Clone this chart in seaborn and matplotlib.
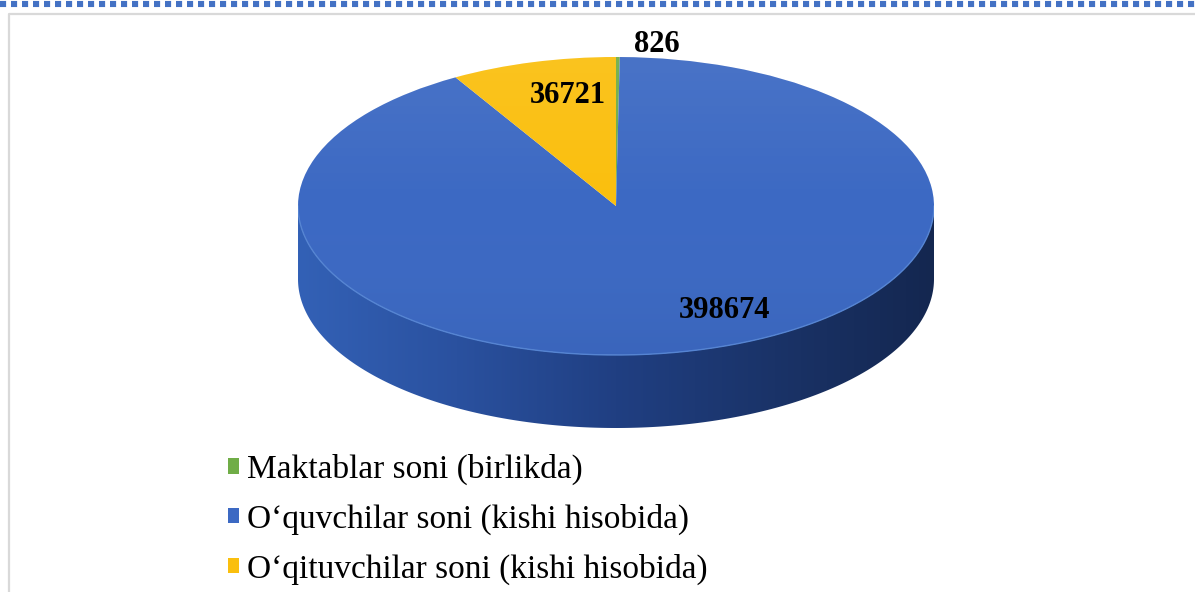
# -*- coding: utf-8 -*-

### 3D style pie chart: maktablar, o'quvchilar, o'qituvchilar ###

import numpy as np
import matplotlib
matplotlib.use("Agg")
import matplotlib.pyplot as plt
from matplotlib.patches import Polygon, Ellipse
from matplotlib.colors import LinearSegmentedColormap
import seaborn as sns

sns.set_theme(style="white")
plt.rcParams['font.family'] = ['Liberation Serif', 'DejaVu Serif']

## Data ##
labels = ["Maktablar soni (birlikda)",
          "O‘quvchilar soni (kishi hisobida)",
          "O‘qituvchilar soni (kishi hisobida)"]
values = [826, 398674, 36721]
colors = ["#70AD47", "#3C69C3", "#FABF0E"]

W, H = 1195, 592
fig = plt.figure(figsize=(W / 100, H / 100), dpi=100)

## frame: dotted blue top line + grey border ##
bg = fig.add_axes([0, 0, 1, 1])
bg.set_xlim(0, W)
bg.set_ylim(H, 0)
bg.axis('off')
bg.plot([0, W], [3.5, 3.5], color="#4472C4", lw=4.4, dashes=(1, 0.8),
        solid_capstyle='butt', dash_capstyle='butt')
bg.plot([9, 9, W], [H, 13.5, 13.5], color="#d9d9d9", lw=1.6)

## pie geometry (pixels) ##
cx, cy, a, b, depth = 616, 206, 318, 149, 73
d = depth / b
ax = fig.add_axes([(cx - a) / W, (H - (cy + b + depth)) / H,
                   2 * a / W, (2 * b + depth) / H])
ax.set_facecolor('none')

# side of the cylinder
t = np.linspace(np.pi, 2 * np.pi, 300)
xs = np.concatenate([np.cos(t), np.cos(t[::-1])])
ys = np.concatenate([np.sin(t), np.sin(t[::-1]) - d])
side = Polygon(np.column_stack([xs, ys]), closed=True,
               facecolor='none', edgecolor='none')
ax.add_patch(side)
side_cmap = LinearSegmentedColormap.from_list(
    'side', ['#3361b6', '#2a519f', '#203f82', '#1a3368', '#142750'])
grad = np.linspace(0, 1, 256).reshape(1, -1)
im = ax.imshow(grad, extent=[-1, 1, -1 - d, 0], cmap=side_cmap,
               aspect='auto', zorder=1)
im.set_clip_path(side)

# top face
wedges, _ = ax.pie(values, colors=colors, startangle=90, counterclock=False,
                   radius=1, wedgeprops=dict(linewidth=0, zorder=2))

# soft light on top face
top = Ellipse((0, 0), 2, 2, facecolor='none', edgecolor='none')
ax.add_patch(top)
vgrad = np.linspace(0, 1, 256).reshape(-1, 1)
light = LinearSegmentedColormap.from_list(
    'light', [(1, 1, 1, 0.07), (1, 1, 1, 0.0), (0, 0, 0, 0.04)])
im2 = ax.imshow(vgrad, extent=[-1, 1, -1, 1], cmap=light, aspect='auto',
                zorder=3, origin='upper')
im2.set_clip_path(top)

# highlight on front rim
ax.plot(np.cos(t), np.sin(t), color='#5584d2', lw=1.0, zorder=4)

ax.set_aspect('auto')
ax.set_xlim(-1, 1)
ax.set_ylim(-1 - d, 1)
ax.axis('off')

## value labels (pixel positions) ##
lbl_pos = [(657, 44), (725, 310), (568, 95)]
for (px, py), v in zip(lbl_pos, values):
    fig.text(px / W, 1 - py / H, str(v), ha='center', va='center',
             fontsize=22, fontweight='bold', color='black', zorder=10)

## legend ##
leg = fig.legend(wedges, labels, loc='upper left',
                 bbox_to_anchor=(228 / W, 1 - 454 / H), frameon=False,
                 fontsize=24, handlelength=0.32, handleheight=0.32,
                 handletextpad=0.25, labelspacing=0.56, borderpad=0,
                 borderaxespad=0)
for txt in leg.get_texts():
    txt.set_color('black')

fig.savefig("out.png", dpi=100)
